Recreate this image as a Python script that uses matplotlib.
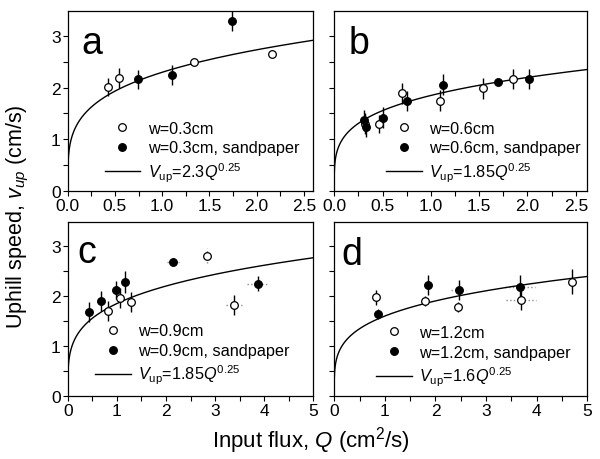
import numpy as np
import matplotlib
matplotlib.use("Agg")
import matplotlib.pyplot as plt
from matplotlib.ticker import MultipleLocator

plt.rcParams['font.family'] = ['Liberation Sans', 'DejaVu Sans']
plt.rcParams['mathtext.fontset'] = 'custom'
plt.rcParams['mathtext.rm'] = 'Liberation Sans'
plt.rcParams['mathtext.it'] = 'Liberation Sans:italic'

# panel a, w=0.3cm
a_open_x = [0.43, 0.54, 1.34, 2.16]
a_open_y = [2.01, 2.19, 2.50, 2.65]
a_open_yerr = [0.18, 0.20, 0.0, 0.0]
a_fill_x = [0.74, 1.10, 1.74]
a_fill_y = [2.16, 2.25, 3.30]
a_fill_yerr = [0.19, 0.20, 0.20]

# panel b, w=0.6cm
b_open_x = [0.32, 0.46, 0.70, 1.09, 1.54, 1.85]
b_open_y = [1.30, 1.30, 1.89, 1.75, 1.99, 2.17]
b_open_yerr = [0.20, 0.18, 0.20, 0.20, 0.20, 0.20]
b_fill_x = [0.31, 0.33, 0.51, 0.75, 1.13, 1.70, 2.02]
b_fill_y = [1.37, 1.24, 1.42, 1.74, 2.06, 2.12, 2.17]
b_fill_yerr = [0.20, 0.20, 0.20, 0.20, 0.20, 0.05, 0.20]

# panel c, w=0.9cm
c_open_x = [0.81, 1.07, 1.28, 2.83, 3.38]
c_open_y = [1.71, 1.97, 1.88, 2.81, 1.83]
c_open_yerr = [0.20, 0.20, 0.20, 0.0, 0.20]
c_open_xerr = [0, 0, 0, 0, 0.16]
c_fill_x = [0.43, 0.68, 0.98, 1.17, 2.15, 3.88]
c_fill_y = [1.69, 1.91, 2.13, 2.29, 2.69, 2.25]
c_fill_yerr = [0.20, 0.20, 0.18, 0.22, 0.0, 0.15]
c_fill_xerr = [0, 0, 0, 0, 0.12, 0.22]
c_faint_x = [2.83, 2.15]
c_faint_y = [2.81, 2.69]
c_faint_yerr = [0.15, 0.08]

# panel d, w=1.2cm
d_open_x = [0.82, 1.80, 2.44, 3.69, 4.69]
d_open_y = [1.98, 1.91, 1.78, 1.93, 2.29]
d_open_yerr = [0.15, 0.10, 0.10, 0.20, 0.25]
d_open_xerr = [0, 0, 0, 0.30, 0]
d_fill_x = [0.86, 1.85, 2.46, 3.67]
d_fill_y = [1.65, 2.23, 2.13, 2.18]
d_fill_yerr = [0.10, 0.20, 0.20, 0.25]
d_fill_xerr = [0, 0, 0.15, 0.29]

# fits V = k Q^0.25
fit_k = [2.3, 1.85, 1.85, 1.6]
widths = ['0.3', '0.6', '0.9', '1.2']
letters = ['a', 'b', 'c', 'd']


def draw_points(ax, x, y, yerr, xerr, filled):
	x = np.array(x)
	y = np.array(y)
	xerr = np.array(xerr, dtype=float)
	m = xerr > 0
	if m.any():
		ax.hlines(y[m], x[m] - xerr[m], x[m] + xerr[m], colors='0.55',
				  linestyles=':', linewidth=1.0, zorder=1)
	ax.errorbar(x, y, yerr=yerr, fmt='none', ecolor='k', elinewidth=1.0,
				capsize=0, zorder=2)
	face = 'k' if filled else 'white'
	h, = ax.plot(x, y, 'o', ms=5.5, mfc=face, mec='k', mew=0.9,
				 linestyle='none', zorder=3)
	return h


fig = plt.figure(figsize=(6, 4.6), dpi=100)
positions = [
	[0.113, 0.583, 0.409, 0.390],
	[0.557, 0.583, 0.422, 0.390],
	[0.113, 0.137, 0.409, 0.378],
	[0.557, 0.137, 0.422, 0.378],
]
xmaxes = [2.6, 2.62, 5.0, 5.0]
leg_anchor = [(0.15, 0.04), (0.205, 0.04), (0.11, 0.055), (0.165, 0.045)]
letter_pos = [(0.055, 0.77), (0.055, 0.77), (0.04, 0.77), (0.03, 0.76)]

panels = [
	(a_open_x, a_open_y, a_open_yerr, [0] * len(a_open_x),
	 a_fill_x, a_fill_y, a_fill_yerr, [0] * len(a_fill_x)),
	(b_open_x, b_open_y, b_open_yerr, [0] * len(b_open_x),
	 b_fill_x, b_fill_y, b_fill_yerr, [0] * len(b_fill_x)),
	(c_open_x, c_open_y, c_open_yerr, c_open_xerr,
	 c_fill_x, c_fill_y, c_fill_yerr, c_fill_xerr),
	(d_open_x, d_open_y, d_open_yerr, d_open_xerr,
	 d_fill_x, d_fill_y, d_fill_yerr, d_fill_xerr),
]

for i, pos in enumerate(positions):
	ax = fig.add_axes(pos)
	ox, oy, oye, oxe, fx, fy, fye, fxe = panels[i]
	if i == 2:
		ax.vlines(c_faint_x, np.array(c_faint_y) - np.array(c_faint_yerr),
				  np.array(c_faint_y) + np.array(c_faint_yerr),
				  colors='0.55', linestyles=':', linewidth=1.0, zorder=1)
	h_open = draw_points(ax, ox, oy, oye, oxe, False)
	h_fill = draw_points(ax, fx, fy, fye, fxe, True)
	q = np.concatenate([[0.0], np.geomspace(1e-5, xmaxes[i], 600)])
	h_fit, = ax.plot(q, fit_k[i] * q ** 0.25, color='k', lw=1.0, zorder=2)

	ax.set_xlim(0, xmaxes[i])
	ax.set_ylim(0, 3.48)
	if i < 2:
		ax.xaxis.set_major_locator(MultipleLocator(0.5))
		ax.xaxis.set_minor_locator(MultipleLocator(0.25))
		ax.xaxis.set_major_formatter(plt.FormatStrFormatter('%.1f'))
	else:
		ax.xaxis.set_major_locator(MultipleLocator(1))
		ax.xaxis.set_minor_locator(MultipleLocator(0.5))
	ax.yaxis.set_major_locator(MultipleLocator(1))
	ax.yaxis.set_minor_locator(MultipleLocator(0.5))
	ax.tick_params(which='both', direction='out', length=3.5, width=0.8,
				   labelsize=12.5, pad=1.5)
	if i % 2 == 1:
		ax.tick_params(axis='y', labelleft=False)
	for s in ax.spines.values():
		s.set_linewidth(0.9)

	ax.text(letter_pos[i][0], letter_pos[i][1], letters[i], transform=ax.transAxes,
			fontsize=27, va='baseline', ha='left')

	w = widths[i]
	ax.legend([h_open, h_fill, h_fit],
			  [f'w={w}cm', f'w={w}cm, sandpaper',
			   r'$V_{\mathrm{up}}$=' + f'{fit_k[i]:g}' + r'$Q^{0.25}$'],
			  loc='lower left', bbox_to_anchor=leg_anchor[i], frameon=False,
			  fontsize=11.7, handlelength=2.2, handletextpad=0.45,
			  labelspacing=0.3, borderpad=0, borderaxespad=0)

fig.text(0.03, 0.53, r'Uphill speed, $v_{up}$ (cm/s)', rotation=90,
		 ha='center', va='center', fontsize=15.5)
fig.text(0.518, 0.043, r'Input flux, $Q$ (cm$^2$/s)', ha='center',
		 va='center', fontsize=16)

fig.savefig('out.png', dpi=100)
